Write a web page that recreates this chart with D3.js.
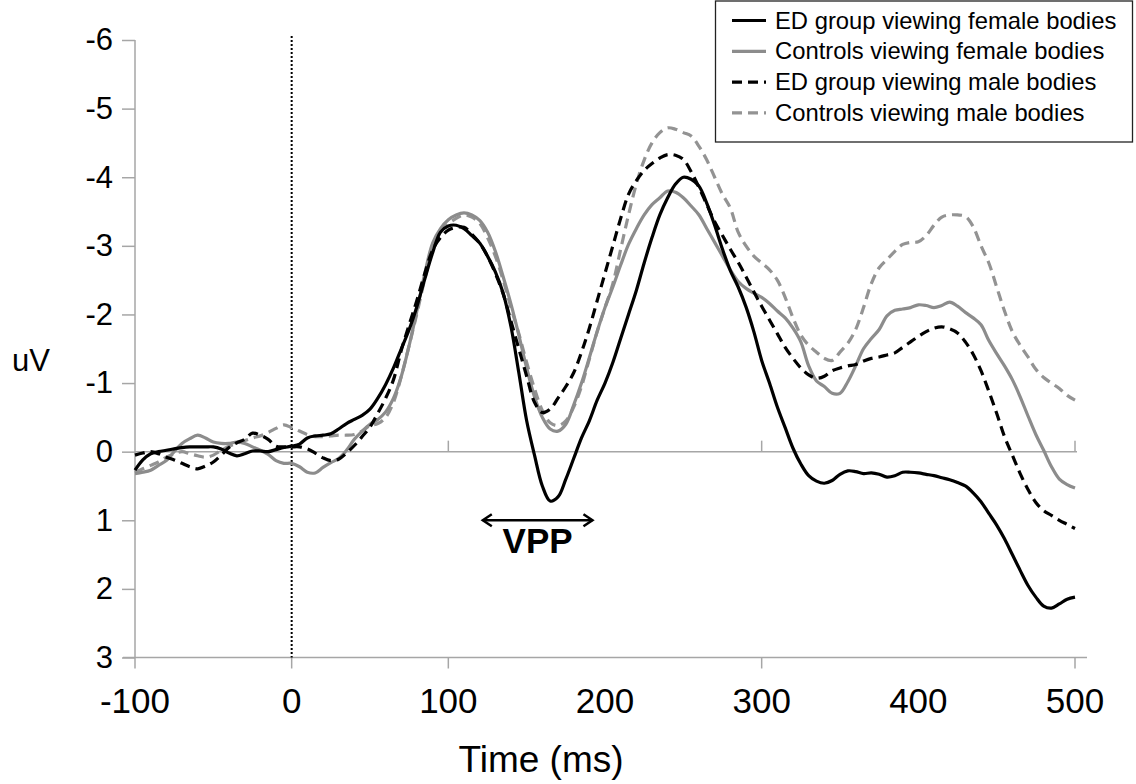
<!DOCTYPE html>
<html>
<head>
<meta charset="utf-8">
<script src="https://cdnjs.cloudflare.com/ajax/libs/d3/7.8.5/d3.min.js"></script>
<style>
  html, body { margin: 0; padding: 0; background: #fff; }
  svg { display: block; font-family: 'Liberation Sans', Arial, sans-serif; }
</style>
</head>
<body>
<div id="chart"></div>
<script>
(function() {
  'use strict';

  var times = [
    -100, -95, -90, -85, -80, -75, -70, -65, -60, -55, -50, -45, -40, -35, -30, -25, -20, -15, -10, -5,
    0, 5, 10, 15, 20, 25, 30, 35, 40, 45, 50, 55, 60, 65, 70, 75, 80, 85, 90, 95,
    100, 105, 110, 115, 120, 125, 130, 135, 140, 145, 150, 155, 160, 165, 170, 175, 180, 185, 190, 195,
    200, 205, 210, 215, 220, 225, 230, 235, 240, 245, 250, 255, 260, 265, 270, 275, 280, 285, 290, 295,
    300, 305, 310, 315, 320, 325, 330, 335, 340, 345, 350, 355, 360, 365, 370, 375, 380, 385, 390, 395,
    400, 405, 410, 415, 420, 425, 430, 435, 440, 445, 450, 455, 460, 465, 470, 475, 480, 485, 490, 495,
    500
  ];

  var edFemale = [
    0.27, 0.12, 0.03, 0.00, -0.02, -0.04, -0.06, -0.07, -0.07, -0.07, -0.07, -0.04, 0.02, 0.06, 0.03, -0.01, -0.01, 0.00, -0.03, -0.06,
    -0.08, -0.11, -0.20, -0.23, -0.24, -0.26, -0.33, -0.41, -0.47, -0.53, -0.62, -0.78, -0.98, -1.22, -1.50, -1.78, -2.12, -2.52, -2.90, -3.20,
    -3.29, -3.30, -3.25, -3.15, -3.04, -2.85, -2.62, -2.31, -1.82, -1.15, -0.45, 0.05, 0.50, 0.72, 0.66, 0.40, 0.10, -0.20, -0.45, -0.75,
    -1.00, -1.30, -1.65, -2.00, -2.35, -2.75, -3.12, -3.45, -3.70, -3.90, -4.00, -3.97, -3.87, -3.62, -3.30, -2.95, -2.64, -2.40, -2.11, -1.75,
    -1.33, -1.00, -0.65, -0.35, -0.05, 0.18, 0.35, 0.43, 0.46, 0.42, 0.33, 0.28, 0.29, 0.32, 0.31, 0.33, 0.37, 0.35, 0.30, 0.30,
    0.31, 0.33, 0.35, 0.38, 0.41, 0.45, 0.50, 0.60, 0.73, 0.90, 1.07, 1.27, 1.50, 1.73, 1.95, 2.12, 2.25, 2.28, 2.22, 2.15,
    2.12
  ];

  var ctlFemale = [
    0.32, 0.30, 0.27, 0.20, 0.13, 0.00, -0.12, -0.19, -0.24, -0.20, -0.14, -0.12, -0.12, -0.14, -0.12, -0.07, -0.02, 0.04, 0.13, 0.17,
    0.17, 0.22, 0.30, 0.31, 0.23, 0.16, 0.10, -0.02, -0.18, -0.30, -0.40, -0.47, -0.58, -0.78, -1.10, -1.55, -2.06, -2.60, -3.04, -3.25,
    -3.38, -3.45, -3.48, -3.45, -3.37, -3.20, -2.92, -2.55, -2.15, -1.70, -1.22, -0.80, -0.50, -0.33, -0.30, -0.40, -0.68, -1.00, -1.37, -1.75,
    -2.10, -2.40, -2.72, -3.02, -3.25, -3.45, -3.60, -3.70, -3.80, -3.78, -3.70, -3.58, -3.45, -3.25, -3.05, -2.85, -2.65, -2.48, -2.38, -2.31,
    -2.25, -2.16, -2.05, -1.95, -1.80, -1.60, -1.25, -1.03, -0.95, -0.85, -0.85, -1.02, -1.25, -1.50, -1.65, -1.78, -1.98, -2.06, -2.08, -2.10,
    -2.14, -2.13, -2.10, -2.13, -2.18, -2.12, -2.03, -1.95, -1.85, -1.62, -1.43, -1.25, -1.05, -0.80, -0.52, -0.25, -0.02, 0.22, 0.40, 0.48,
    0.53
  ];

  var edMale = [
    0.05, 0.02, 0.00, 0.03, 0.08, 0.12, 0.17, 0.22, 0.25, 0.21, 0.15, 0.05, -0.06, -0.13, -0.18, -0.27, -0.24, -0.18, -0.08, -0.07,
    -0.07, -0.07, -0.04, 0.02, 0.09, 0.13, 0.11, 0.02, -0.09, -0.22, -0.36, -0.56, -0.78, -1.05, -1.48, -1.85, -2.21, -2.60, -2.94, -3.12,
    -3.23, -3.27, -3.27, -3.17, -3.04, -2.85, -2.60, -2.30, -1.90, -1.50, -1.10, -0.72, -0.57, -0.62, -0.78, -0.95, -1.15, -1.45, -1.80, -2.20,
    -2.60, -3.00, -3.40, -3.75, -3.95, -4.10, -4.20, -4.28, -4.33, -4.32, -4.26, -4.08, -3.85, -3.60, -3.35, -3.15, -2.95, -2.76, -2.55, -2.33,
    -2.12, -1.92, -1.72, -1.52, -1.36, -1.22, -1.12, -1.07, -1.10, -1.18, -1.22, -1.25, -1.27, -1.32, -1.36, -1.38, -1.41, -1.44, -1.52, -1.60,
    -1.68, -1.75, -1.80, -1.82, -1.79, -1.73, -1.60, -1.42, -1.18, -0.88, -0.56, -0.22, 0.05, 0.32, 0.55, 0.74, 0.86, 0.93, 1.00, 1.06,
    1.12
  ];

  var ctlMale = [
    0.30, 0.25, 0.20, 0.15, 0.08, 0.03, 0.00, 0.03, 0.06, 0.08, 0.05, -0.02, -0.08, -0.12, -0.16, -0.20, -0.23, -0.28, -0.34, -0.39,
    -0.35, -0.30, -0.25, -0.22, -0.22, -0.23, -0.24, -0.24, -0.25, -0.30, -0.38, -0.41, -0.50, -0.72, -1.10, -1.55, -2.02, -2.52, -2.94, -3.20,
    -3.32, -3.40, -3.45, -3.42, -3.33, -3.12, -2.85, -2.50, -2.10, -1.72, -1.30, -0.92, -0.60, -0.42, -0.38, -0.45, -0.65, -0.95, -1.35, -1.75,
    -2.10, -2.45, -2.95, -3.45, -3.90, -4.25, -4.50, -4.65, -4.72, -4.70, -4.65, -4.60, -4.45, -4.25, -4.00, -3.75, -3.55, -3.20, -3.00, -2.85,
    -2.75, -2.65, -2.50, -2.25, -1.95, -1.70, -1.55, -1.45, -1.36, -1.33, -1.45, -1.58, -1.78, -2.10, -2.45, -2.68, -2.80, -2.92, -3.02, -3.05,
    -3.06, -3.15, -3.30, -3.42, -3.45, -3.45, -3.43, -3.28, -3.00, -2.75, -2.40, -2.05, -1.75, -1.55, -1.38, -1.20, -1.08, -1.00, -0.92, -0.82,
    -0.75
  ];

  var seriesNames = [
    'ED group viewing female bodies',
    'Controls viewing female bodies',
    'ED group viewing male bodies',
    'Controls viewing male bodies'
  ];
  var xTickLabels = [-100, 0, 100, 200, 300, 400, 500];
  var xTickMarks = [-100, 0, 100, 300, 500];
  var zeroLineTicks = [100, 300, 500];
  var yTickLabels = [-6, -5, -4, -3, -2, -1, 0, 1, 2, 3];
  var vppSpan = [122, 192];
  var vppLevel = 1.0;

  var width = 1136, height = 784;
  var axisColor = '#a6a6a6';

  var svg = d3.select('#chart')
      .append('svg')
      .attr('width', width)
      .attr('height', height);

  var x = d3.scaleLinear().domain([-100, 500]).range([135, 1075]);
  var y = d3.scaleLinear().domain([-6, 3]).range([40, 657.5]);

  // left axis
  var yAxis = d3.axisLeft(y)
      .tickValues(yTickLabels)
      .tickSize(13)
      .tickPadding(9)
      .tickFormat(d3.format('d'));
  var gy = svg.append('g')
      .attr('transform', 'translate(' + x(-100) + ',0)')
      .call(yAxis);
  gy.select('.domain').remove();
  gy.append('line')
      .attr('y1', y(-6)).attr('y2', y(3))
      .attr('stroke', axisColor).attr('stroke-width', 1.5);
  gy.selectAll('.tick line').attr('stroke', axisColor).attr('stroke-width', 1.5);
  gy.selectAll('.tick text')
      .attr('fill', '#000')
      .style('font-size', '31px')
      .text(function(d) { return d < 0 ? '-' + Math.abs(d) : d; });

  // bottom axis
  var gx = svg.append('g')
      .attr('transform', 'translate(0,' + y(3) + ')');
  gx.append('line')
      .attr('x1', x(-100) - 12).attr('x2', x(500) + 12)
      .attr('stroke', axisColor).attr('stroke-width', 1.5);
  gx.selectAll('.tickmark')
      .data(xTickMarks)
      .enter().append('line')
      .attr('class', 'tickmark')
      .attr('x1', function(d) { return x(d); })
      .attr('x2', function(d) { return x(d); })
      .attr('y1', 0).attr('y2', 11)
      .attr('stroke', axisColor).attr('stroke-width', 1.5);
  gx.selectAll('.ticklabel')
      .data(xTickLabels)
      .enter().append('text')
      .attr('class', 'ticklabel')
      .attr('x', function(d) { return x(d); })
      .attr('y', 55)
      .attr('text-anchor', 'middle')
      .style('font-size', '35px')
      .text(function(d) { return d < 0 ? '-' + Math.abs(d) : d; });

  svg.append('text')
      .attr('x', 541)
      .attr('y', 772)
      .attr('text-anchor', 'middle')
      .style('font-size', '37px')
      .text('Time (ms)');

  svg.append('text')
      .attr('x', 12)
      .attr('y', 371)
      .style('font-size', '31px')
      .text('uV');

  // zero line with its own ticks
  svg.append('line')
      .attr('x1', x(-100)).attr('x2', x(500) + 2)
      .attr('y1', y(0)).attr('y2', y(0))
      .attr('stroke', axisColor).attr('stroke-width', 1.5);
  svg.selectAll('.zerotick')
      .data(zeroLineTicks)
      .enter().append('line')
      .attr('class', 'zerotick')
      .attr('x1', function(d) { return x(d); })
      .attr('x2', function(d) { return x(d); })
      .attr('y1', y(0)).attr('y2', y(0) - 11)
      .attr('stroke', axisColor).attr('stroke-width', 1.5);

  // stimulus onset
  svg.append('line')
      .attr('x1', x(0)).attr('x2', x(0))
      .attr('y1', y(-6) - 4).attr('y2', y(3))
      .attr('stroke', '#000')
      .attr('stroke-width', 2)
      .attr('stroke-dasharray', '2,2');

  var styles = [
    {color: '#000', dash: null},
    {color: '#8c8c8c', dash: null},
    {color: '#000', dash: '10,6'},
    {color: '#939393', dash: '10,6'}
  ];
  var seriesValues = [edFemale, ctlFemale, edMale, ctlMale];

  var line = d3.line()
      .x(function(d, i) { return x(times[i]); })
      .y(function(d) { return y(d); })
      .curve(d3.curveCatmullRom.alpha(0.5));

  // draw back to front: grey dashed, grey solid, black dashed, black solid
  [3, 1, 2, 0].forEach(function(k) {
    svg.append('path')
      .datum(seriesValues[k])
      .attr('fill', 'none')
      .attr('stroke', styles[k].color)
      .attr('stroke-width', 3.2)
      .attr('stroke-linejoin', 'round')
      .attr('stroke-dasharray', styles[k].dash)
      .attr('d', line);
  });

  // VPP annotation
  var vy = y(vppLevel);
  var arrow = svg.append('g').attr('stroke', '#000').attr('stroke-width', 2.5).attr('fill', 'none');
  arrow.append('line')
      .attr('x1', x(vppSpan[0])).attr('x2', x(vppSpan[1]))
      .attr('y1', vy).attr('y2', vy);
  arrow.append('path')
      .attr('d', 'M' + (x(vppSpan[0]) + 9) + ',' + (vy - 6) + 'L' + x(vppSpan[0]) + ',' + vy +
                 'L' + (x(vppSpan[0]) + 9) + ',' + (vy + 6));
  arrow.append('path')
      .attr('d', 'M' + (x(vppSpan[1]) - 9) + ',' + (vy - 6) + 'L' + x(vppSpan[1]) + ',' + vy +
                 'L' + (x(vppSpan[1]) - 9) + ',' + (vy + 6));
  svg.append('text')
      .attr('x', (x(vppSpan[0]) + x(vppSpan[1])) / 2)
      .attr('y', vy + 33)
      .attr('text-anchor', 'middle')
      .style('font-size', '35px')
      .style('font-weight', 'bold')
      .text('VPP');

  // legend
  var legend = svg.append('g');
  legend.append('rect')
      .attr('x', 715.5).attr('y', 1)
      .attr('width', 417).attr('height', 141)
      .attr('fill', '#fff')
      .attr('stroke', '#222')
      .attr('stroke-width', 1.3);
  var rows = legend.selectAll('.row')
      .data(seriesNames)
      .enter().append('g')
      .attr('class', 'row')
      .attr('transform', function(d, i) { return 'translate(0,' + (28.5 + i * 30.8) + ')'; });
  rows.append('line')
      .attr('x1', 732).attr('x2', 766)
      .attr('y1', -8).attr('y2', -8)
      .attr('stroke', function(d, i) { return styles[i].color; })
      .attr('stroke-width', 3.2)
      .attr('stroke-dasharray', function(d, i) { return styles[i].dash; });
  rows.append('text')
      .attr('x', 775)
      .style('font-size', '23.8px')
      .text(function(d) { return d; });
})();
</script>
</body>
</html>
